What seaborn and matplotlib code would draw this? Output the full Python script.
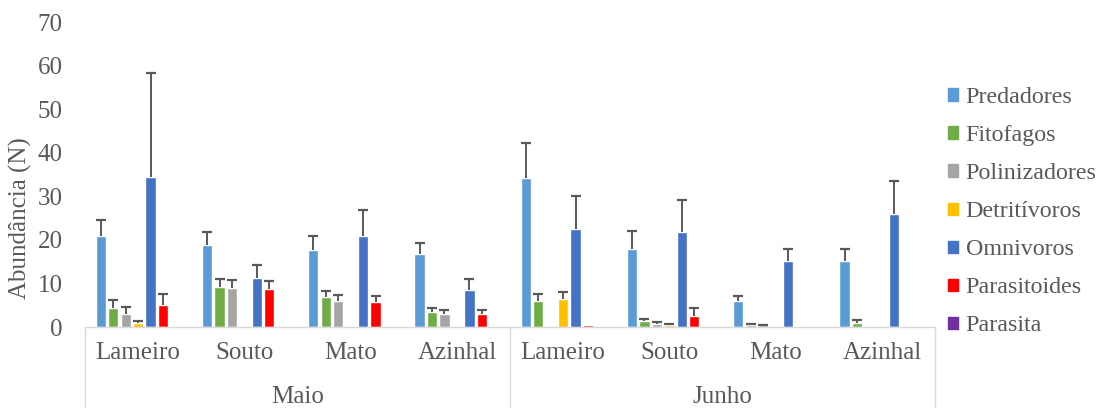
import numpy as np
import pandas as pd
import matplotlib
matplotlib.use("Agg")
import matplotlib.pyplot as plt
import matplotlib.transforms as mtransforms
import seaborn as sns

# --- dados ---
meses = ["Maio", "Junho"]
locais = ["Lameiro", "Souto", "Mato", "Azinhal"]
grupos = ["Predadores", "Fitofagos", "Polinizadores", "Detritívoros",
          "Omnivoros", "Parasitoides", "Parasita"]

predadores = [21.0, 18.8, 17.7, 16.7, 34.1, 17.8, 6.0, 15.2]
fitofagos = [4.4, 9.2, 6.8, 3.4, 6.0, 1.3, 0.55, 0.85]
polinizadores = [3.0, 8.95, 5.9, 2.9, 0.3, 0.6, 0.45, 0.3]
detritivoros = [0.85, 0.0, 0.0, 0.2, 6.5, 0.4, 0.1, 0.0]
omnivoros = [34.5, 11.2, 20.8, 8.6, 22.4, 21.7, 15.1, 25.9]
parasitoides = [5.05, 8.8, 5.75, 3.05, 0.4, 2.5, 0.0, 0.3]
parasita = [0.0, 0.0, 0.0, 0.0, 0.1, 0.0, 0.0, 0.0]

predadores_err = [3.5, 3.0, 3.1, 2.6, 8.2, 4.2, 1.2, 2.6]
fitofagos_err = [1.9, 1.8, 1.5, 0.9, 1.65, 0.55, 0.1, 0.7]
polinizadores_err = [1.7, 1.85, 1.4, 0.9, 0.0, 0.5, 0.1, 0.0]
detritivoros_err = [0.6, 0.0, 0.0, 0.0, 1.6, 0.2, 0.0, 0.0]
omnivoros_err = [23.7, 3.1, 6.0, 2.5, 7.7, 7.5, 2.7, 7.6]
parasitoides_err = [2.55, 1.8, 1.35, 0.85, 0.0, 1.9, 0.0, 0.0]
parasita_err = [0.0, 0.0, 0.0, 0.0, 0.0, 0.0, 0.0, 0.0]

cores = ["#5B9BD5", "#70AD47", "#A5A5A5", "#FFC000", "#4472C4", "#FF0000", "#7030A0"]

valores = [predadores, fitofagos, polinizadores, detritivoros, omnivoros, parasitoides, parasita]
erros = [predadores_err, fitofagos_err, polinizadores_err, detritivoros_err,
         omnivoros_err, parasitoides_err, parasita_err]

# --- tabela longa ---
categorias = [f"{m}|{l}" for m in meses for l in locais]
linhas = []
for g, vals in zip(grupos, valores):
    for c, v in zip(categorias, vals):
        linhas.append({"cat": c, "grupo": g, "valor": v})
df = pd.DataFrame(linhas)

# --- estilo ---
sns.set_style("white")
plt.rcParams["font.family"] = ["Liberation Serif", "DejaVu Serif"]
cinza = "#595959"
fs = 18

fig = plt.figure(figsize=(11, 4.08), dpi=100)
ax = fig.add_axes([0.0773, 0.1985, 0.7727, 0.7475])

sns.barplot(data=df, x="cat", y="valor", hue="grupo", order=categorias,
            hue_order=grupos, palette=cores, width=0.82, gap=0.17,
            saturation=1, errorbar=None, legend=False, ax=ax)

# barras de erro (só para cima, com traço no topo)
for cont, errs in zip(ax.containers, erros):
    for barra, e in zip(cont.patches, errs):
        if e <= 0:
            continue
        xc = barra.get_x() + barra.get_width() / 2
        h = barra.get_height()
        ax.vlines(xc, h, h + e, color=cinza, lw=1.4, zorder=3)
        ax.plot([xc], [h + e], marker="_", ms=7, mew=1.6, color=cinza, zorder=3)

ax.set_ylim(0, 70)
ax.set_xlim(-0.5, len(categorias) - 0.5)
ax.set_yticks(np.arange(0, 71, 10))
ax.tick_params(axis="y", length=0, pad=16, labelsize=fs, labelcolor=cinza)
ax.set_xticks(range(len(categorias)))
ax.set_xticklabels(locais * len(meses))
ax.tick_params(axis="x", length=0, pad=11, labelsize=fs, labelcolor=cinza)
ax.set_xlabel("")
ax.set_ylabel("Abundância (N)", fontsize=fs, color=cinza)
ax.yaxis.set_label_coords(-0.062, 0.357)

for s in ["top", "right", "left"]:
    ax.spines[s].set_visible(False)
ax.spines["bottom"].set_color("#D9D9D9")
ax.spines["bottom"].set_linewidth(1.0)

# rótulos de segundo nível e separadores
trans = mtransforms.blended_transform_factory(ax.transData, ax.transAxes)
n = len(locais)
for i, m in enumerate(meses):
    ax.text(i * n + (n - 1) / 2, -0.228, m, transform=trans, ha="center",
            va="center", fontsize=fs, color=cinza)
for xs in range(len(meses) + 1):
    ax.plot([xs * n - 0.5, xs * n - 0.5], [0, -0.27], transform=trans,
            color="#D9D9D9", lw=1.0, clip_on=False)

# legenda
handles = [plt.Rectangle((0, 0), 1, 1, color=c) for c in cores]
fig.legend(handles, grupos, loc="upper left", bbox_to_anchor=(0.853, 0.81),
           borderaxespad=0, frameon=False, fontsize=17.3, labelcolor=cinza,
           handlelength=0.42, handleheight=0.42, handletextpad=0.32,
           labelspacing=0.71)

plt.savefig("out.png", dpi=100)
